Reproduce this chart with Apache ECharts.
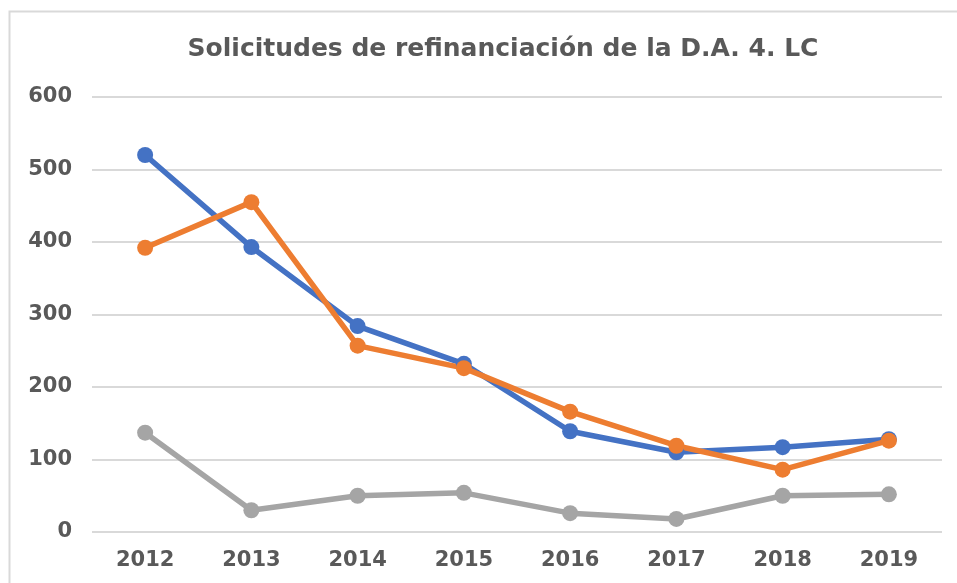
<!DOCTYPE html>
<html>
<head>
<meta charset="utf-8">
<script src="https://cdn.jsdelivr.net/npm/echarts@6/dist/echarts.min.js"></script>
<style>
  html, body { margin: 0; padding: 0; background: #fff; }
  #chart { width: 957px; height: 583px; }
</style>
</head>
<body>
<div id="chart"></div>
<script>
// datos
const years = ['2012', '2013', '2014', '2015', '2016', '2017', '2018', '2019']
const serieAzul = [520, 393, 284, 232, 139, 110, 117, 128]
const serieNaranja = [392, 455, 257, 226, 166, 119, 86, 126]
const serieGris = [137, 30, 50, 54, 26, 18, 50, 52]
const yTicks = [0, 100, 200, 300, 400, 500, 600]

const font = 'DejaVu Sans'
const textColor = '#595959'

function lineSerie(name, data, color) {
  return {
    name: name,
    type: 'line',
    data: data,
    symbol: 'circle',
    symbolSize: 16,
    lineStyle: { width: 5.5, color: color },
    itemStyle: { color: color },
    z: 3
  }
}

const chart = echarts.init(document.getElementById('chart'))
chart.setOption({
  animation: false,
  backgroundColor: '#fff',
  title: {
    text: 'Solicitudes de refinanciación de la D.A. 4. LC',
    left: 498,
    top: 32,
    textAlign: 'center',
    textStyle: { fontFamily: font, fontWeight: 'bold', fontSize: 25, color: textColor }
  },
  graphic: [{
    type: 'rect',
    shape: { x: 9.5, y: 11.5, width: 1200, height: 1200 },
    style: { fill: 'none', stroke: '#d9d9d9', lineWidth: 2 },
    silent: true
  }],
  grid: { left: 92, right: 15, top: 97, bottom: 51 },
  xAxis: {
    type: 'category',
    data: years,
    boundaryGap: true,
    axisLine: { show: false },
    axisTick: { show: false },
    axisLabel: { fontFamily: font, fontWeight: 'bold', fontSize: 21, color: textColor, margin: 18 }
  },
  yAxis: {
    type: 'value',
    min: yTicks[0],
    max: yTicks[yTicks.length - 1],
    interval: 100,
    axisLine: { show: false },
    axisTick: { show: false },
    splitLine: { lineStyle: { color: '#d9d9d9', width: 2 } },
    axisLabel: { fontFamily: font, fontWeight: 'bold', fontSize: 21, color: textColor, margin: 20 }
  },
  series: [
    lineSerie('Serie 1', serieAzul, '#4472C4'),
    lineSerie('Serie 2', serieNaranja, '#ED7D31'),
    lineSerie('Serie 3', serieGris, '#A5A5A5')
  ]
})
</script>
</body>
</html>
